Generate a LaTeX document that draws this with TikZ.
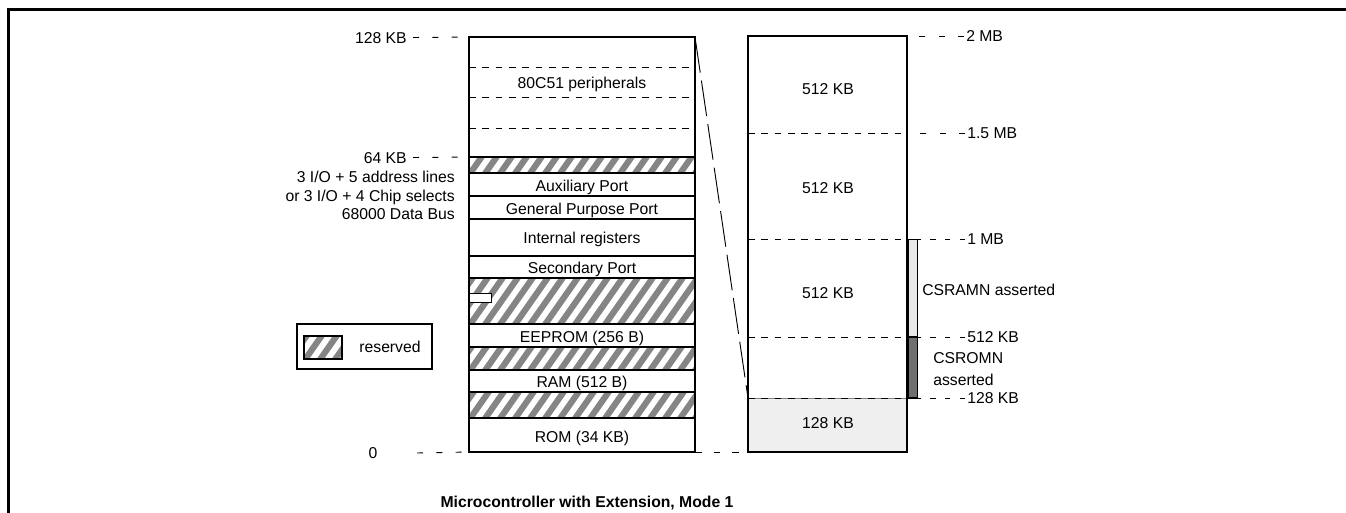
\documentclass[tikz,border=0pt]{standalone}
\usepackage{fontspec}
\setmainfont{Liberation Sans}
\definecolor{hatchgray}{HTML}{858585}
\definecolor{lightfill}{HTML}{EFEFEF}
\definecolor{barlight}{HTML}{E8E8E8}
\definecolor{bardark}{HTML}{6F6F6F}
\newcommand{\hatchbox}[4]{%
  \fill[white] (#1,#2) rectangle (#3,#4);
  \begin{scope}
    \clip (#1,#2) rectangle (#3,#4);
    \foreach \i in {-4,...,17}{
      \draw[hatchline] ({#1+15*\i},{#4+2}) -- ({#1+15*\i+0.7*(#4-#2+4)},{#2-2});
    }
  \end{scope}
  \draw[box] (#1,#2) rectangle (#3,#4);
}
\begin{document}
\begin{tikzpicture}[x=0.75pt,y=-0.75pt,
  every node/.style={font=\fontsize{11.8}{14}\selectfont, inner sep=0pt, text height=8.45pt, text depth=0pt},
  box/.style={draw=black,line width=0.9pt},
  innerdash/.style={draw=black,line width=0.7pt,dash pattern=on 5pt off 5pt},
  lead/.style={draw=black,line width=0.7pt,dash pattern=on 4.5pt off 10pt},
  zoomline/.style={draw=black,line width=0.7pt,dash pattern=on 27pt off 6pt},
  hatchline/.style={draw=hatchgray,line width=4.6pt}]
\useasboundingbox (0,0) rectangle (1346,512);
% frame
\draw[line width=1.9pt] (8.7,540) -- (8.7,9.5) -- (1370,9.5);

% ---------- left memory map ----------
\coordinate (Ltl) at (469,37);
\coordinate (Ltr) at (695,37);
\coordinate (L64l) at (469,157);
\coordinate (Lbl) at (469,452);
\coordinate (Lbr) at (695,452);

\fill[white] (469,37) rectangle (695,452);
\draw[innerdash] (469,67) -- (695,67);
\draw[innerdash] (469,97) -- (695,97);
\draw[innerdash] (469,128) -- (695,128);
\hatchbox{469}{157}{695}{173}
\draw[box] (469,173) rectangle (695,196);
\draw[box] (469,196) rectangle (695,219);
\draw[box] (469,219) rectangle (695,256);
\draw[box] (469,256) rectangle (695,278);
\hatchbox{469}{278}{695}{324}
\draw[line width=0.7pt, fill=white] (469,293) rectangle (491,302);
\draw[box] (469,324) rectangle (695,347);
\hatchbox{469}{347}{695}{370}
\draw[box] (469,370) rectangle (695,392);
\hatchbox{469}{392}{695}{418}
\draw[box] (469,418) rectangle (695,452);
\draw[box] (Ltl) rectangle (Lbr);

\node (t80) at (582,83) {80C51 peripherals};
\node (taux) at (582,186) {Auxiliary Port};
\node (tgpp) at (582,209) {General Purpose Port};
\node (tint) at (582,238) {Internal registers};
\node (tsec) at (582,268) {Secondary Port};
\node (teep) at (582,337) {EEPROM (256 B)};
\node (tram) at (582,382) {RAM (512 B)};
\node (trom) at (582,437) {ROM (34 KB)};

% left labels
\node[anchor=east] (lab128) at (407,37.5) {128 KB};
\node[anchor=east] (lab64) at (407,157.5) {64 KB};
\node[anchor=east] (labio1) at (455,177) {3 I/O + 5 address lines};
\node[anchor=east] (labio2) at (455,196) {or 3 I/O + 4 Chip selects};
\node[anchor=east] (labio3) at (455,214) {68000 Data Bus};
\node (lab0) at (373,453) {0};
\draw[lead] ([xshift=4.5pt]lab128.east) -- (Ltl);
\draw[lead] ([xshift=4.5pt]lab64.east) -- (L64l);
\draw[lead] ([xshift=33pt]lab0.center) -- (Lbl);

% legend
\draw[box] (297,324) rectangle (432,369);
\hatchbox{304}{336}{342}{359}
\node (reserved) at (390,347) {reserved};

% ---------- right memory map ----------
\coordinate (Rtl) at (748,36);
\coordinate (Rtr) at (907,36);
\coordinate (R15r) at (907,133);
\coordinate (R1r) at (917,239);
\coordinate (R512r) at (917,337);
\coordinate (R128l) at (748,398);
\coordinate (R128r) at (917,398);
\coordinate (Rbl) at (748,452);
\coordinate (Rbr) at (907,452);

\fill[white] (Rtl) rectangle (Rbr);
\fill[lightfill] (748,398) rectangle (907,452);
\draw[line width=0.5pt, draw=gray] (748,398) -- (907,398);
\draw[innerdash] (748,133) -- (907,133);
\draw[innerdash] (748,239) -- (907,239);
\draw[innerdash] (748,337) -- (907,337);
\draw[innerdash] (748,398) -- (907,398);
\draw[box] (Rtl) rectangle (Rbr);

\node (r1) at (828,89) {512 KB};
\node (r2) at (828,188) {512 KB};
\node (r3) at (828,293) {512 KB};
\node (r4) at (828,423) {128 KB};

% bars
\draw[line width=0.7pt, fill=barlight] (908,239) rectangle (917,336);
\draw[line width=0.7pt, fill=bardark] (908,337) rectangle (917,397);
\draw[line width=0.7pt] (907,239) -- (920,239);
\draw[line width=0.7pt] (907,337) -- (920,337);
\draw[line width=0.7pt] (907,398) -- (920,398);

% right labels
\node[anchor=west] (l2mb) at (966,36) {2 MB};
\node[anchor=west] (l15mb) at (967,133) {1.5 MB};
\node[anchor=west] (l1mb) at (967,239) {1 MB};
\node[anchor=west] (l512) at (967,337) {512 KB};
\node[anchor=west] (l128) at (967,398) {128 KB};
\draw[lead] ([xshift=-1.5pt]l2mb.west) -- (Rtr);
\draw[lead] ([xshift=-1.5pt]l15mb.west) -- (R15r);
\draw[lead, dash pattern=on 4pt off 7pt] ([xshift=-1.5pt]l1mb.west) -- (R1r);
\draw[lead, dash pattern=on 4pt off 7pt] ([xshift=-1.5pt]l512.west) -- (R512r);
\draw[lead, dash pattern=on 4pt off 7pt] ([xshift=-1.5pt]l128.west) -- (R128r);

\node[anchor=west] (csram) at (922,290) {CSRAMN asserted};
\node[anchor=west] (csrom1) at (933,358) {CSROMN};
\node[anchor=west] (csrom2) at (933,380) {asserted};

% zoom connectors
\draw[zoomline] (Ltr) -- (R128l);
\draw[lead, dash pattern=on 5pt off 9pt] (Lbr) -- (Rbl);

% title
\node[font=\fontsize{11.8}{14}\selectfont\bfseries] (title) at (587,502) {Microcontroller with Extension, Mode 1};
\end{tikzpicture}
\end{document}
